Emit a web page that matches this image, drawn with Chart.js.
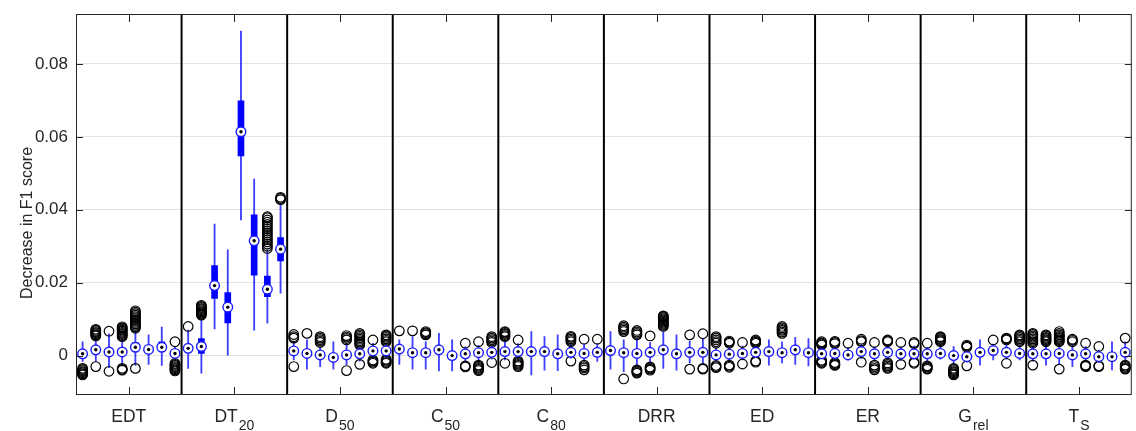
<!DOCTYPE html>
<html>
<head>
<meta charset="utf-8">
<script src="https://cdn.jsdelivr.net/npm/chart.js@4"></script>
<style>
  html, body { margin: 0; padding: 0; background: #fff; overflow: hidden; }
  #wrap { width: 1138px; height: 431px; }
</style>
</head>
<body>
<div id="wrap"><canvas id="boxChart"></canvas></div>
<script>
// groups (label + subscript), 8 boxes per group
const groupNames = ['EDT', 'DT', 'D', 'C', 'C', 'DRR', 'ED', 'ER', 'G', 'T'];
const groupSubs  = ['', '20', '50', '50', '80', '', '', '', 'rel', 'S'];
const perGroup = 8;
const yTicks = [0, 0.02, 0.04, 0.06, 0.08];
const yTitle = 'Decrease in F1 score';

// box statistics, one row per group
const medians = [
  0.0005, 0.0016, 0.0010, 0.0010, 0.0023, 0.0017, 0.0023, 0.0006,
  0.0020, 0.0025, 0.0192, 0.0133, 0.0614, 0.0315, 0.0182, 0.0292,
  0.0013, 0.0006, 0.0002, -0.0005, 0.0002, 0.0005, 0.0013, 0.0013,
  0.0018, 0.0008, 0.0008, 0.0016, 0.0000, 0.0005, 0.0008, 0.0009,
  0.0011, 0.0011, 0.0011, 0.0011, 0.0005, 0.0009, 0.0006, 0.0009,
  0.0014, 0.0008, 0.0006, 0.0009, 0.0016, 0.0005, 0.0009, 0.0009,
  0.0002, 0.0004, 0.0006, 0.0009, 0.0011, 0.0008, 0.0016, 0.0008,
  0.0005, 0.0006, 0.0002, 0.0011, 0.0005, 0.0009, 0.0005, 0.0005,
  0.0005, 0.0006, 0.0000, -0.0003, 0.0009, 0.0014, 0.0009, 0.0006,
  0.0005, 0.0005, 0.0006, 0.0002, 0.0005, -0.0003, -0.0003, 0.0009
];
const q1 = [
  0.0001, 0.0011, 0.0005, 0.0005, 0.0016, 0.0013, 0.0016, 0.0001,
  0.0014, 0.0006, 0.0157, 0.0090, 0.0548, 0.0221, 0.0162, 0.0260,
  0.0009, 0.0002, -0.0002, -0.0009, -0.0002, 0.0001, 0.0009, 0.0009,
  0.0014, 0.0004, 0.0004, 0.0012, -0.0004, 0.0001, 0.0004, 0.0005,
  0.0007, 0.0007, 0.0006, 0.0006, 0.0001, 0.0005, 0.0002, 0.0005,
  0.0010, 0.0004, 0.0002, 0.0005, 0.0012, 0.0001, 0.0005, 0.0005,
  -0.0002, 0.0000, 0.0002, 0.0005, 0.0007, 0.0004, 0.0012, 0.0004,
  0.0001, 0.0002, -0.0002, 0.0007, 0.0001, 0.0005, 0.0001, 0.0001,
  0.0001, 0.0002, -0.0004, -0.0007, 0.0005, 0.0010, 0.0005, 0.0002,
  0.0001, 0.0001, 0.0002, -0.0002, 0.0001, -0.0007, -0.0007, 0.0005
];
const q3 = [
  0.0009, 0.0021, 0.0015, 0.0015, 0.0036, 0.0022, 0.0038, 0.0011,
  0.0027, 0.0047, 0.0247, 0.0173, 0.0699, 0.0386, 0.0218, 0.0324,
  0.0017, 0.0010, 0.0006, 0.0002, 0.0006, 0.0009, 0.0017, 0.0017,
  0.0022, 0.0016, 0.0012, 0.0020, 0.0004, 0.0009, 0.0012, 0.0013,
  0.0015, 0.0015, 0.0020, 0.0016, 0.0009, 0.0013, 0.0010, 0.0013,
  0.0018, 0.0012, 0.0010, 0.0013, 0.0022, 0.0009, 0.0013, 0.0013,
  0.0006, 0.0008, 0.0010, 0.0013, 0.0015, 0.0012, 0.0020, 0.0012,
  0.0009, 0.0010, 0.0006, 0.0015, 0.0009, 0.0013, 0.0009, 0.0009,
  0.0009, 0.0010, 0.0004, 0.0002, 0.0013, 0.0018, 0.0013, 0.0010,
  0.0009, 0.0009, 0.0010, 0.0006, 0.0009, 0.0001, 0.0001, 0.0013
];
const whiskerLo = [
  -0.0016, -0.0016, -0.0033, -0.0028, -0.0027, -0.0024, -0.0027, -0.0010,
  -0.0035, -0.0048, 0.0073, 0.0000, 0.0372, 0.0070, 0.0089, 0.0171,
  -0.0012, -0.0037, -0.0030, -0.0037, -0.0025, -0.0015, -0.0007, -0.0005,
  -0.0024, -0.0037, -0.0037, -0.0042, -0.0042, -0.0016, -0.0016, -0.0010,
  -0.0012, -0.0005, -0.0053, -0.0040, -0.0041, -0.0008, -0.0016, -0.0016,
  -0.0037, -0.0044, -0.0030, -0.0020, -0.0035, -0.0040, -0.0020, -0.0020,
  -0.0015, -0.0015, -0.0012, -0.0005, -0.0026, -0.0020, -0.0024, -0.0028,
  -0.0008, -0.0010, -0.0012, -0.0008, -0.0014, -0.0012, -0.0013, -0.0010,
  -0.0015, -0.0010, -0.0025, -0.0018, -0.0026, -0.0012, -0.0010, -0.0012,
  -0.0015, -0.0026, -0.0025, -0.0030, -0.0015, -0.0018, -0.0039, -0.0015
];
const whiskerHi = [
  0.0038, 0.0048, 0.0060, 0.0046, 0.0068, 0.0057, 0.0078, 0.0025,
  0.0070, 0.0100, 0.0361, 0.0290, 0.0890, 0.0484, 0.0290, 0.0413,
  0.0038, 0.0043, 0.0025, 0.0038, 0.0033, 0.0022, 0.0034, 0.0030,
  0.0043, 0.0052, 0.0038, 0.0061, 0.0043, 0.0024, 0.0028, 0.0025,
  0.0040, 0.0033, 0.0066, 0.0052, 0.0057, 0.0030, 0.0032, 0.0033,
  0.0066, 0.0043, 0.0048, 0.0036, 0.0065, 0.0057, 0.0040, 0.0045,
  0.0020, 0.0022, 0.0026, 0.0025, 0.0043, 0.0038, 0.0050, 0.0047,
  0.0020, 0.0022, 0.0022, 0.0030, 0.0024, 0.0030, 0.0024, 0.0026,
  0.0022, 0.0028, 0.0025, 0.0015, 0.0043, 0.0032, 0.0035, 0.0028,
  0.0025, 0.0028, 0.0030, 0.0032, 0.0025, 0.0015, 0.0038, 0.0038
];
const outliers = [
  // EDT
  [-0.0035, -0.0038, -0.0041, -0.0044, -0.0047, -0.0050, -0.0053],
  [0.0054, 0.0057, 0.0060, 0.0063, 0.0066, 0.0069, 0.0072, -0.0030],
  [0.0067, -0.0043],
  [0.0052, 0.0055, 0.0058, 0.0061, 0.0064, 0.0067, 0.0070, 0.0073, 0.0076, 0.0079, -0.0035, -0.0038, -0.0040],
  [0.0075, 0.0079, 0.0083, 0.0087, 0.0091, 0.0095, 0.0099, 0.0103, 0.0107, 0.0111, 0.0115, 0.0119, 0.0123, -0.0035],
  [],
  [],
  [0.0038, -0.0021, -0.0024, -0.0027, -0.0030, -0.0033, -0.0036, -0.0039, -0.0042],
  // DT20
  [0.0080],
  [0.0111, 0.0114, 0.0117, 0.0120, 0.0123, 0.0126, 0.0129, 0.0132, 0.0135, 0.0138],
  [],
  [],
  [],
  [],
  [0.0294, 0.0300, 0.0306, 0.0312, 0.0318, 0.0324, 0.0330, 0.0336, 0.0342, 0.0348, 0.0354, 0.0360, 0.0366, 0.0372, 0.0378, 0.0381],
  [0.0428, 0.0431, 0.0434],
  // D50
  [0.0048, 0.0052, 0.0058, -0.0030],
  [0.0061],
  [0.0036, 0.0040, 0.0044, 0.0048, 0.0052],
  [],
  [0.0043, 0.0047, 0.0051, 0.0055, -0.0041],
  [0.0029, 0.0033, 0.0037, 0.0041, 0.0045, 0.0049, 0.0053, 0.0057, 0.0061, -0.0024],
  [0.0043, -0.0012, -0.0015, -0.0018, -0.0021],
  [0.0038, 0.0042, 0.0046, 0.0050, 0.0054, 0.0057, -0.0010, -0.0013, -0.0016, -0.0019, -0.0021],
  // C50
  [0.0068],
  [0.0068],
  [0.0057, 0.0060, 0.0063, 0.0066],
  [],
  [],
  [0.0034, -0.0028, -0.0031],
  [0.0038, -0.0026, -0.0029, -0.0032, -0.0035, -0.0038, -0.0041],
  [0.0036, 0.0040, 0.0044, 0.0048, 0.0052, -0.0019],
  // C80
  [0.0052, 0.0055, 0.0058, 0.0061, 0.0064, 0.0066, -0.0021],
  [0.0043, -0.0015, -0.0018, -0.0021, -0.0024, -0.0027, -0.0030],
  [],
  [],
  [],
  [0.0038, 0.0042, 0.0046, 0.0050, 0.0053, -0.0015],
  [0.0045, -0.0026, -0.0030, -0.0034, -0.0039],
  [0.0045],
  // DRR
  [],
  [0.0066, 0.0070, 0.0074, 0.0078, 0.0082, -0.0064],
  [0.0057, 0.0061, 0.0065, 0.0069, -0.0039, -0.0042, -0.0045, -0.0048],
  [0.0054, -0.0031, -0.0034, -0.0037, -0.0040],
  [0.0080, 0.0083, 0.0086, 0.0089, 0.0092, 0.0095, 0.0098, 0.0101, 0.0104, 0.0107, 0.0109],
  [],
  [0.0057, -0.0037],
  [0.0060, -0.0035, -0.0037],
  // ED
  [0.0034, 0.0038, 0.0043, 0.0048, 0.0052, -0.0027, -0.0030, -0.0033],
  [0.0034, 0.0037, 0.0040, -0.0026, -0.0029, -0.0032],
  [0.0036, -0.0023],
  [0.0034, 0.0037, 0.0040, 0.0043, -0.0015, -0.0018],
  [],
  [0.0061, 0.0065, 0.0069, 0.0072, 0.0076, 0.0080],
  [],
  [],
  // ER
  [0.0029, 0.0032, 0.0035, 0.0038, -0.0013, -0.0016, -0.0019, -0.0021],
  [0.0033, 0.0036, 0.0039, -0.0019, -0.0022, -0.0025, -0.0027],
  [0.0034],
  [0.0038, 0.0041, 0.0045, -0.0018],
  [0.0036, -0.0026, -0.0030, -0.0035, -0.0039],
  [0.0038, 0.0041, 0.0043, -0.0020, -0.0024, -0.0028, -0.0032, -0.0035],
  [0.0036, -0.0024],
  [0.0033, 0.0036, -0.0018, -0.0021],
  // Grel
  [0.0034, -0.0028, -0.0031, -0.0034, -0.0037],
  [0.0038, 0.0041, 0.0044, 0.0047, 0.0050, 0.0052],
  [-0.0035, -0.0038, -0.0041, -0.0044, -0.0047, -0.0050, -0.0053],
  [0.0023, 0.0026, 0.0029, -0.0028],
  [],
  [0.0043],
  [0.0043, 0.0046, 0.0048, -0.0021],
  [0.0038, 0.0042, 0.0046, 0.0050, 0.0054, 0.0057],
  // TS
  [0.0034, 0.0038, 0.0042, 0.0046, 0.0050, 0.0054, 0.0058, 0.0061, -0.0026],
  [0.0038, 0.0041, 0.0044, 0.0047, 0.0050, 0.0054, 0.0057],
  [0.0038, 0.0041, 0.0044, 0.0047, 0.0050, 0.0053, 0.0057, 0.0061, 0.0066, -0.0037],
  [0.0038, 0.0042, 0.0045],
  [0.0034, -0.0026, -0.0028, -0.0030],
  [0.0025, -0.0028, -0.0030],
  [],
  [0.0048, -0.0026, -0.0029, -0.0032, -0.0035, -0.0037]
];

const textColor = '#262626';
const fontFamily = '"Liberation Sans", Arial, Helvetica, sans-serif';

// separators, frame, inward ticks, group labels and y title
const boxFrame = {
  id: 'boxFrame',
  afterDatasetsDraw(chart) {
    const { ctx, chartArea: a, scales: { x, y } } = chart;
    ctx.save();
    ctx.strokeStyle = '#000';
    ctx.lineWidth = 2;
    for (let g = 1; g < groupNames.length; g++) {
      const px = x.getPixelForValue(g * perGroup + 0.5);
      ctx.beginPath();
      ctx.moveTo(px, a.top);
      ctx.lineTo(px, a.bottom);
      ctx.stroke();
    }
    ctx.strokeStyle = textColor;
    ctx.lineWidth = 1;
    ctx.strokeRect(a.left + 0.5, a.top + 0.5, a.right - a.left - 1, a.bottom - a.top - 1);
    ctx.beginPath();
    yTicks.forEach(v => {
      const py = Math.round(y.getPixelForValue(v)) + 0.5;
      ctx.moveTo(a.left, py); ctx.lineTo(a.left + 7, py);
      ctx.moveTo(a.right, py); ctx.lineTo(a.right - 7, py);
    });
    groupNames.forEach((n, g) => {
      const px = Math.round(x.getPixelForValue(g * perGroup + (perGroup + 1) / 2)) + 0.5;
      ctx.moveTo(px, a.bottom); ctx.lineTo(px, a.bottom - 8);
      ctx.moveTo(px, a.top); ctx.lineTo(px, a.top + 8);
    });
    ctx.stroke();

    ctx.fillStyle = textColor;
    ctx.textAlign = 'left';
    ctx.textBaseline = 'alphabetic';
    const mainFont = '17.5px ' + fontFamily;
    const subFont = '14px ' + fontFamily;
    groupNames.forEach((n, g) => {
      const cx = x.getPixelForValue(g * perGroup + (perGroup + 1) / 2);
      ctx.font = mainFont;
      const w1 = ctx.measureText(n).width;
      ctx.font = subFont;
      const w2 = groupSubs[g] ? ctx.measureText(groupSubs[g]).width + 1 : 0;
      const sx = cx - (w1 + w2) / 2;
      ctx.font = mainFont;
      ctx.fillText(n, sx, a.bottom + 27);
      if (groupSubs[g]) {
        ctx.font = subFont;
        ctx.fillText(groupSubs[g], sx + w1 + 1, a.bottom + 35);
      }
    });

    // y axis title
    ctx.translate(28, 223);
    ctx.rotate(-Math.PI / 2);
    ctx.textAlign = 'center';
    ctx.textBaseline = 'middle';
    ctx.font = '16px ' + fontFamily;
    ctx.fillText(yTitle, 0, 0);
    ctx.restore();
  }
};

const pos = medians.map((m, i) => i + 1);
const outlierPts = [];
outliers.forEach((list, i) => list.forEach(v => outlierPts.push({ x: i + 1, y: v })));

const ctx = document.querySelector('#boxChart').getContext('2d');
const boxChart = new Chart(ctx, {
  type: 'bar',
  data: {
    datasets: [
      {
        type: 'scatter',
        order: 0,
        data: pos.map((p, i) => ({ x: p, y: medians[i] })),
        pointRadius: 1.7,
        pointBorderWidth: 0,
        pointBackgroundColor: '#000'
      },
      {
        type: 'scatter',
        order: 1,
        data: pos.map((p, i) => ({ x: p, y: medians[i] })),
        pointRadius: 4.8,
        pointBorderWidth: 1.4,
        pointBorderColor: '#1a1aff',
        pointBackgroundColor: '#fff'
      },
      {
        type: 'scatter',
        order: 2,
        data: outlierPts,
        pointRadius: 4.8,
        pointBorderWidth: 1.2,
        pointBorderColor: '#000',
        pointBackgroundColor: 'rgba(0,0,0,0)'
      },
      {
        type: 'bar',
        order: 3,
        grouped: false,
        barThickness: 6,
        backgroundColor: '#0000ff',
        data: pos.map((p, i) => ({ x: p, y: [q1[i], q3[i]] }))
      },
      {
        type: 'bar',
        order: 4,
        grouped: false,
        barThickness: 1.2,
        backgroundColor: 'rgba(0,0,255,0.75)',
        data: pos.map((p, i) => ({ x: p, y: [whiskerLo[i], whiskerHi[i]] }))
      }
    ]
  },
  options: {
    responsive: true,
    maintainAspectRatio: false,
    animation: false,
    events: [],
    layout: { padding: { left: 0, top: 14, right: 1, bottom: 0 } },
    plugins: {
      legend: { display: false },
      tooltip: { enabled: false }
    },
    scales: {
      x: {
        type: 'linear',
        offset: false,
        min: 0.5,
        max: 80.5,
        grid: { display: false },
        border: { display: false },
        ticks: { display: false },
        afterFit(s) { s.height = 36; }
      },
      y: {
        min: -0.0108,
        max: 0.0937,
        border: { display: false },
        grid: { color: '#e3e3e3', lineWidth: 1, drawTicks: false },
        afterBuildTicks(s) { s.ticks = yTicks.map(v => ({ value: v })); },
        afterFit(s) {
          s.width = 76;
          s.paddingTop = 0;
          s.paddingBottom = 0;
        },
        ticks: {
          padding: 8,
          color: textColor,
          font: { family: fontFamily, size: 17 },
          callback: v => String(v)
        }
      }
    }
  },
  plugins: [boxFrame]
});
</script>
</body>
</html>
